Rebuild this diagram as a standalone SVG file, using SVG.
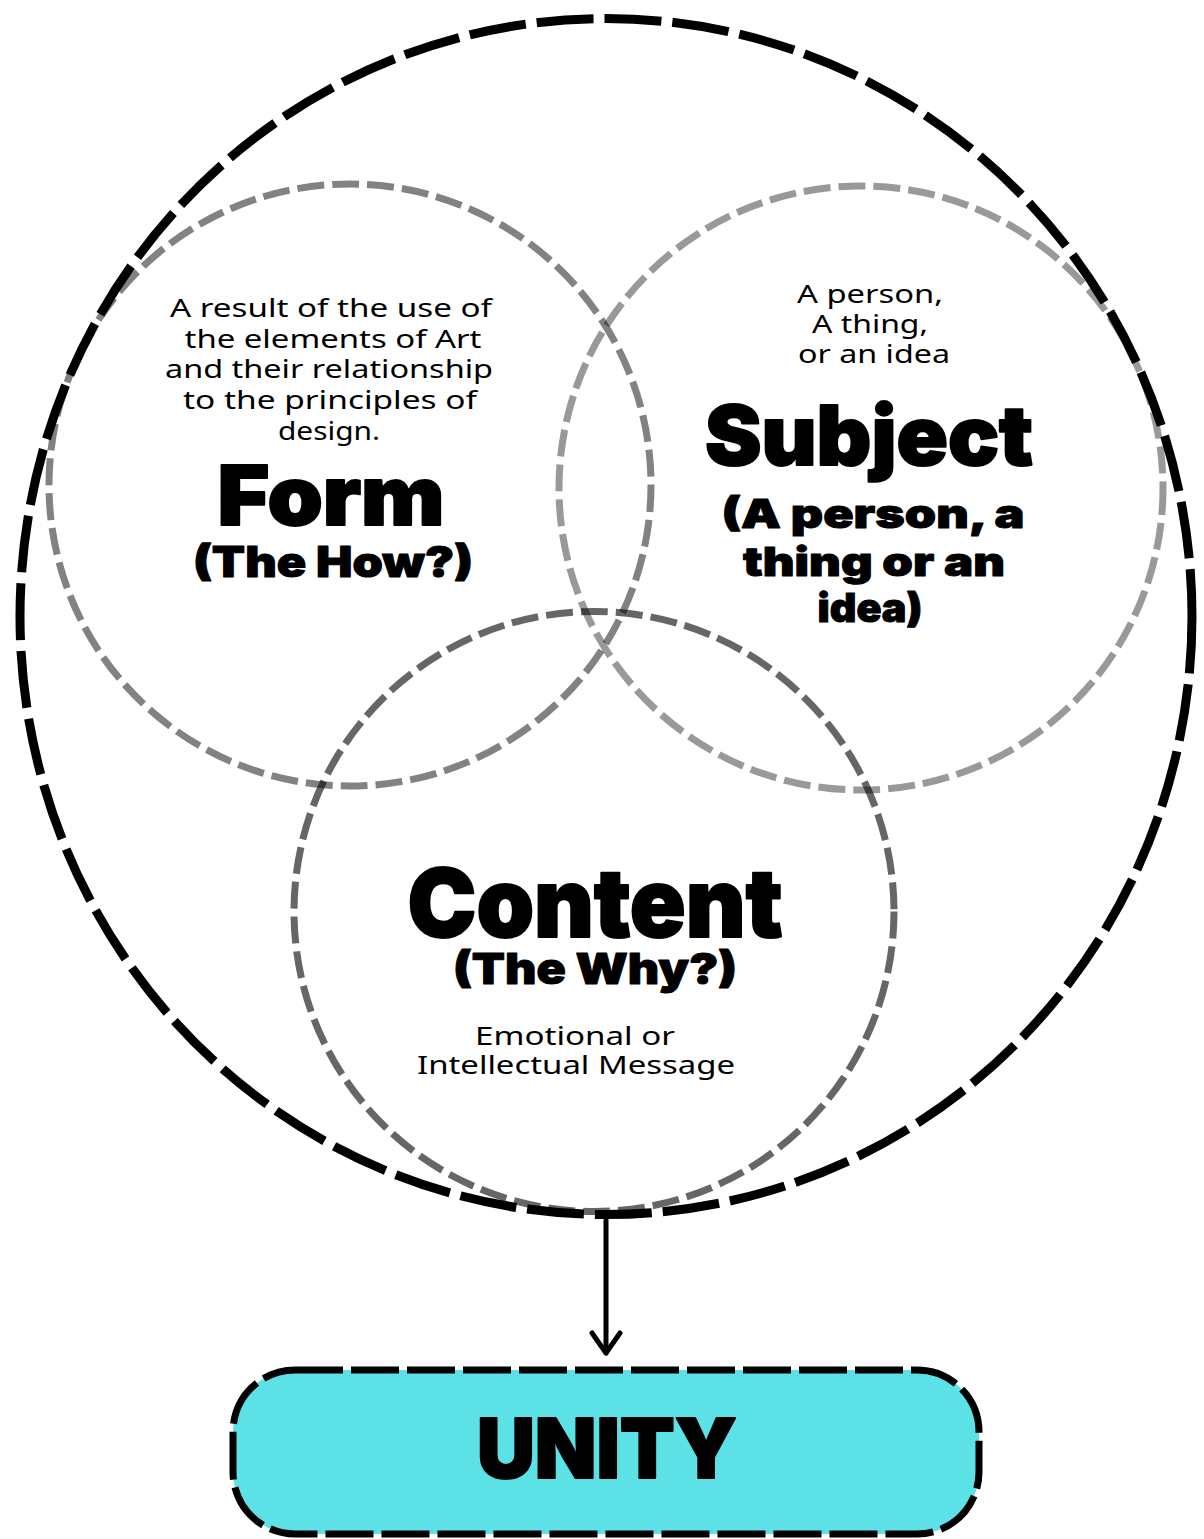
<svg xmlns="http://www.w3.org/2000/svg" width="1204" height="1539" viewBox="0 0 1204 1539">
<defs>
<style>
.bg{fill:#ffffff}
.outer{fill:none;stroke:#000;stroke-width:9;stroke-dasharray:57 11}
.ring{fill:none;stroke:#000;stroke-width:7;stroke-dasharray:27 8}
.desc{font-family:"Noto Sans","Open Sans","Liberation Sans",sans-serif;font-size:26px;fill:#000;text-anchor:middle}
.head{font-family:"Inter","Lato","Liberation Sans",sans-serif;font-weight:900;fill:#000;stroke:#000;stroke-width:2;stroke-linejoin:round;text-anchor:middle}
.sub{stroke-width:1}
.box{fill:#5ce1e6;stroke:#000;stroke-width:7;stroke-dasharray:48 8}
.conn{fill:none;stroke:#000;stroke-width:5;stroke-linecap:round}
</style>
<marker id="arr" viewBox="-3 -17 27 34" refX="20" refY="0" markerWidth="27" markerHeight="34" orient="auto" markerUnits="userSpaceOnUse">
<path d="M0,-14 L20,0 L0,14" fill="none" stroke="#000" stroke-width="5" stroke-linecap="round" stroke-linejoin="round"/>
</marker>
</defs>
<rect class="bg" x="0" y="0" width="1204" height="1539"/>

<g id="whole">
<ellipse class="outer" cx="606" cy="616.5" rx="586" ry="598"/>
</g>

<g id="form">
<circle class="ring" cx="350" cy="485" r="301" stroke-opacity="0.49"/>
<text class="desc" x="331" y="317" textLength="322" lengthAdjust="spacingAndGlyphs">A result of the use of</text>
<text class="desc" x="333" y="348" textLength="297" lengthAdjust="spacingAndGlyphs">the elements of Art</text>
<text class="desc" x="329" y="378" textLength="328" lengthAdjust="spacingAndGlyphs">and their relationship</text>
<text class="desc" x="330" y="409" textLength="294" lengthAdjust="spacingAndGlyphs">to the principles of</text>
<text class="desc" x="329" y="440" textLength="102" lengthAdjust="spacingAndGlyphs">design.</text>
<text class="head" x="331" y="525" font-size="82" textLength="227" lengthAdjust="spacingAndGlyphs">Form</text>
<text class="head sub" x="333" y="577" font-size="42" textLength="280" lengthAdjust="spacingAndGlyphs">(The How?)</text>
</g>

<g id="subject">
<circle class="ring" cx="861" cy="488" r="302" stroke-opacity="0.4"/>
<text class="desc" x="870" y="303" textLength="146" lengthAdjust="spacingAndGlyphs">A person,</text>
<text class="desc" x="870" y="333" textLength="116" lengthAdjust="spacingAndGlyphs">A thing,</text>
<text class="desc" x="874" y="363" textLength="152" lengthAdjust="spacingAndGlyphs">or an idea</text>
<text class="head" x="869" y="465" font-size="82" textLength="328" lengthAdjust="spacingAndGlyphs">Subject</text>
<text class="head sub" x="873" y="528" font-size="40" textLength="303" lengthAdjust="spacingAndGlyphs">(A person, a</text>
<text class="head sub" x="874" y="576" font-size="40" textLength="262" lengthAdjust="spacingAndGlyphs">thing or an</text>
<text class="head sub" x="870" y="622" font-size="40" textLength="105" lengthAdjust="spacingAndGlyphs">idea)</text>
</g>

<g id="content">
<circle class="ring" cx="594" cy="911.5" r="300" stroke-opacity="0.6"/>
<text class="head" x="595" y="937" font-size="95" textLength="375" lengthAdjust="spacingAndGlyphs">Content</text>
<text class="head sub" x="595" y="984" font-size="43" textLength="284" lengthAdjust="spacingAndGlyphs">(The Why?)</text>
<text class="desc" x="575" y="1045" textLength="200" lengthAdjust="spacingAndGlyphs">Emotional or</text>
<text class="desc" x="576" y="1074" textLength="318" lengthAdjust="spacingAndGlyphs">Intellectual Message</text>
</g>

<g id="connectors">
<line class="conn" x1="606" y1="1220" x2="606" y2="1353" marker-end="url(#arr)"/>
</g>

<g id="unity">
<rect class="box" x="233" y="1370" width="746" height="164" rx="62" ry="62"/>
<text class="head" x="607" y="1478" font-size="82" textLength="260" lengthAdjust="spacingAndGlyphs">UNITY</text>
</g>
</svg>
